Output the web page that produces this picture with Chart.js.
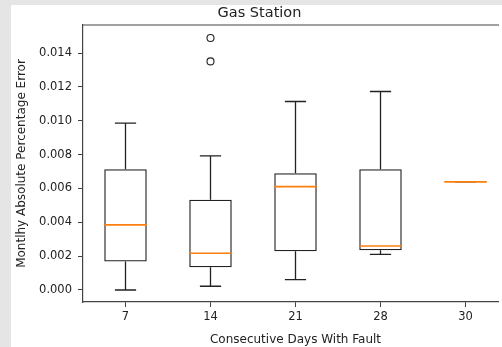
<!DOCTYPE html>
<html>
<head>
<meta charset="utf-8">
<script src="https://cdn.jsdelivr.net/npm/chart.js@4/dist/chart.umd.min.js"></script>
<style>
  html, body { margin: 0; padding: 0; overflow: hidden; background: #e5e5e5; width: 502px; height: 347px; }
  #paper { position: absolute; left: 11px; top: 5px; width: 491px; height: 342px; background: #fff; }
  #frame { position: absolute; left: 0; top: 0; width: 488px; height: 342px; overflow: hidden; }
  canvas { display: block; }
</style>
</head>
<body>
<div id="paper"><div id="frame"><canvas id="boxChart" width="510" height="342"></canvas></div></div>
<script>
// --- Data ---
const categories = ['7', '14', '21', '28', '30'];
const whiskerLow = [0.00000, 0.00022, 0.00061, 0.00211, 0.00639];
const q1 = [0.00168, 0.00134, 0.00229, 0.00235, 0.00639];
const medians = [0.00385, 0.00217, 0.00611, 0.00260, 0.00639];
const q3 = [0.00714, 0.00533, 0.00690, 0.00714, 0.00639];
const whiskerHigh = [0.00986, 0.00793, 0.01114, 0.01173, 0.00639];
const outliers = [[], [0.01489, 0.01351], [], [], []];
const yTickStep = 0.002;

const lineColor = '#222';
const medianColor = '#ff7f0e';
const axisColor = '#444';
const font = 'DejaVu Sans';

// whiskers, caps, medians and the top spine
const boxplotExtras = {
    id: 'boxplotExtras',
    afterDatasetsDraw(chart) {
        const ctx = chart.ctx;
        const x = chart.scales.x;
        const y = chart.scales.y;
        const unit = x.getPixelForValue(1) - x.getPixelForValue(0);
        ctx.save();
        categories.forEach((c, i) => {
            const cx = x.getPixelForValue(i);
            const capHalf = unit * 0.125;
            const boxHalf = unit * 0.25;
            ctx.lineWidth = 1.3;
            ctx.strokeStyle = lineColor;
            ctx.beginPath();
            ctx.moveTo(cx, y.getPixelForValue(q1[i]));
            ctx.lineTo(cx, y.getPixelForValue(whiskerLow[i]));
            ctx.moveTo(cx, y.getPixelForValue(q3[i]));
            ctx.lineTo(cx, y.getPixelForValue(whiskerHigh[i]));
            ctx.moveTo(cx - capHalf, y.getPixelForValue(whiskerLow[i]));
            ctx.lineTo(cx + capHalf, y.getPixelForValue(whiskerLow[i]));
            ctx.moveTo(cx - capHalf, y.getPixelForValue(whiskerHigh[i]));
            ctx.lineTo(cx + capHalf, y.getPixelForValue(whiskerHigh[i]));
            ctx.stroke();
            ctx.lineWidth = 1.7;
            ctx.strokeStyle = medianColor;
            ctx.beginPath();
            ctx.moveTo(cx - boxHalf, y.getPixelForValue(medians[i]));
            ctx.lineTo(cx + boxHalf, y.getPixelForValue(medians[i]));
            ctx.stroke();
        });
        // top spine
        const area = chart.chartArea;
        ctx.strokeStyle = axisColor;
        ctx.lineWidth = 1.2;
        ctx.beginPath();
        ctx.moveTo(area.left, area.top);
        ctx.lineTo(area.right, area.top);
        ctx.stroke();
        ctx.restore();
    }
};

const outlierPoints = [];
outliers.forEach((vals, i) => vals.forEach(v => outlierPoints.push({ x: categories[i], y: v })));

new Chart(document.getElementById('boxChart'), {
    type: 'bar',
    data: {
        labels: categories,
        datasets: [{
            label: 'box',
            data: categories.map((c, i) => [q1[i], q3[i]]),
            backgroundColor: 'rgba(255,255,255,0)',
            borderColor: lineColor,
            borderWidth: 1.3,
            borderSkipped: false,
            barPercentage: 0.5,
            categoryPercentage: 1.0,
            order: 2
        }, {
            type: 'line',
            label: 'fliers',
            data: outlierPoints,
            showLine: false,
            pointStyle: 'circle',
            pointRadius: 3.5,
            pointBorderWidth: 1.1,
            pointBorderColor: lineColor,
            pointBackgroundColor: 'rgba(255,255,255,0)',
            order: 1
        }]
    },
    options: {
        responsive: false,
        animation: false,
        events: [],
        layout: { padding: { left: 0, right: 13, top: 0, bottom: 0 } },
        scales: {
            x: {
                offset: true,
                grid: { offset: false, drawOnChartArea: false, drawTicks: true, tickLength: 5, color: axisColor, lineWidth: 1 },
                border: { display: true, color: axisColor, width: 1.2 },
                ticks: { color: '#222', font: { family: font, size: 11.5 }, padding: 3, maxRotation: 0 },
                title: { display: true, text: 'Consecutive Days With Fault', color: '#222', font: { family: font, size: 12, lineHeight: 1.2 }, padding: { top: 8.5, bottom: 0 } },
                afterFit(scale) { scale.height = 45; }
            },
            y: {
                min: -0.00071,
                max: 0.01566,
                grid: { drawOnChartArea: false, drawTicks: true, tickLength: 5, color: axisColor, lineWidth: 1 },
                border: { display: true, color: axisColor, width: 1.2 },
                ticks: {
                    stepSize: yTickStep,
                    includeBounds: false,
                    color: '#222',
                    font: { family: font, size: 11.5 },
                    padding: 6,
                    callback: v => v.toFixed(3)
                },
                title: { display: true, text: 'Montlhy Absolute Percentage Error', color: '#222', font: { family: font, size: 12, lineHeight: 1.2 }, padding: { top: 3.8, bottom: 0 } },
                afterFit(scale) { scale.width = 72; }
            }
        },
        plugins: {
            legend: { display: false },
            tooltip: { enabled: false },
            title: {
                display: true,
                text: 'Gas Station',
                color: '#222',
                font: { family: font, size: 14.5, weight: 'normal', lineHeight: 1.2 },
                padding: { top: 0, bottom: 2.6 }
            }
        }
    },
    plugins: [boxplotExtras]
});
</script>
</body>
</html>
